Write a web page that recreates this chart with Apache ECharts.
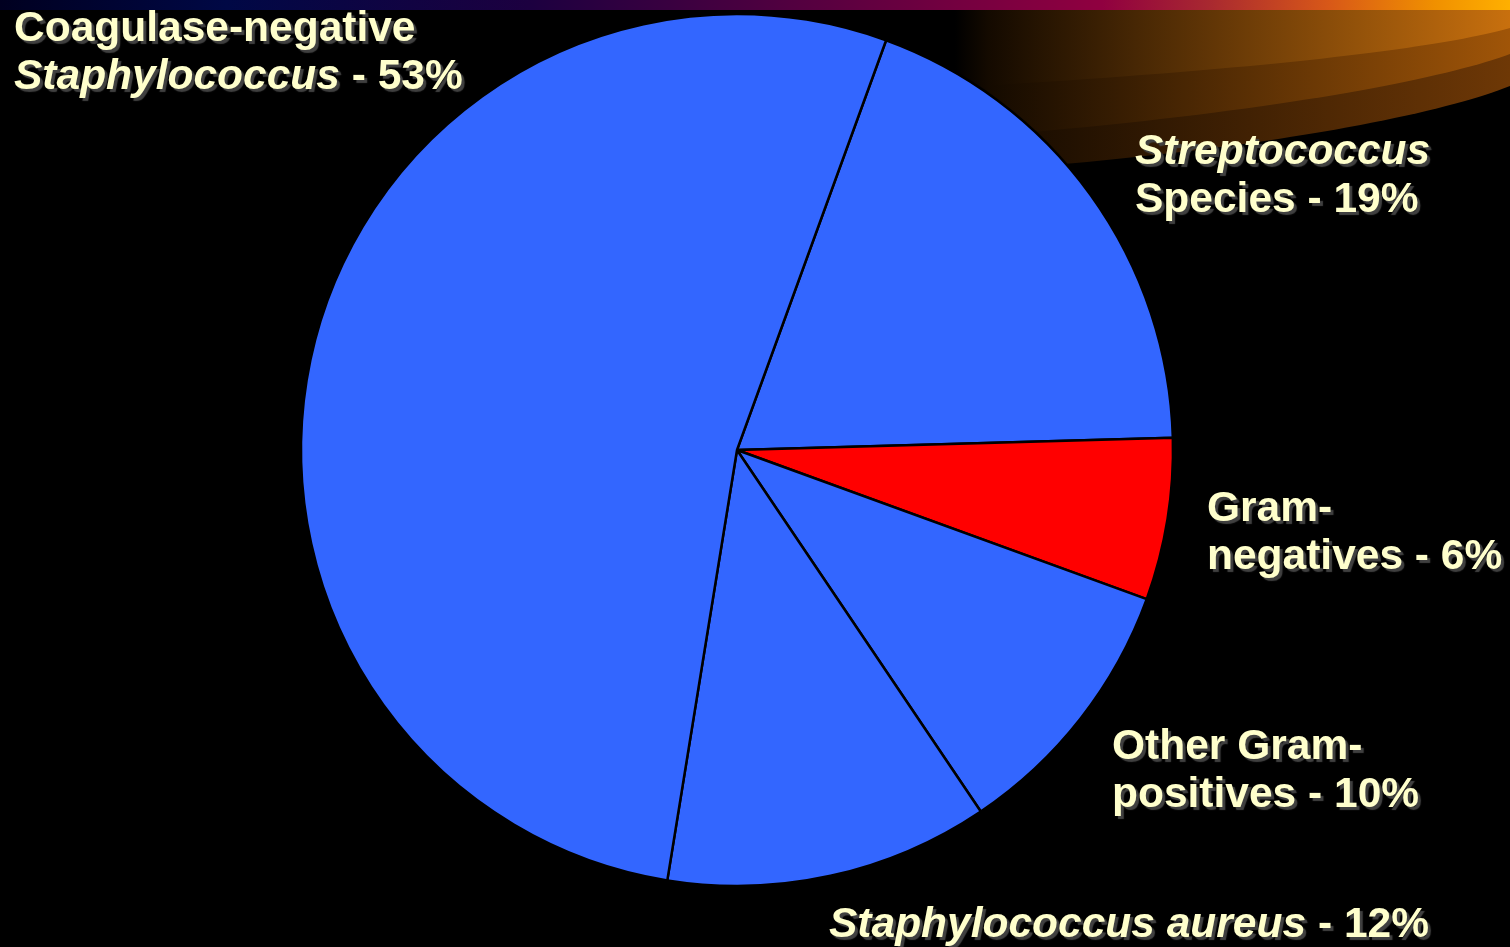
<!DOCTYPE html>
<html>
<head>
<meta charset="utf-8">
<script src="https://cdn.jsdelivr.net/npm/echarts@6/dist/echarts.min.js"></script>
<style>
  html, body { margin: 0; padding: 0; background: #000; }
  #chart { width: 1510px; height: 947px; }
</style>
</head>
<body>
<div id="chart"></div>
<script>
// pie: infection causes
var categories = ['Streptococcus Species', 'Gram-negatives', 'Other Gram-positives', 'Staphylococcus aureus', 'Coagulase-negative Staphylococcus'];
var values = [19, 6, 10, 12, 53];
var sliceColors = ['#3366FF', '#FF0000', '#3366FF', '#3366FF', '#3366FF'];
var labelTexts = [
    '{i|Streptococcus}\n{n|Species - 19%}',
    '{n|Gram-}\n{n|negatives - 6%}',
    '{n|Other Gram-}\n{n|positives - 10%}',
    '{i|Staphylococcus aureus}{n| - 12%}',
    '{n|Coagulase-negative}\n{i|Staphylococcus}{n| - 53%}'
];
// label top-left corners
var labelPos = [[1135, 128], [1207, 485], [1112, 723], [829, 901], [14, 5]];

var myChart = echarts.init(document.getElementById('chart'));

var txt = {
    color: '#FFFFCC',
    fontFamily: '"Liberation Sans", Arial, sans-serif',
    fontSize: 42.5,
    fontWeight: 'bold',
    lineHeight: 48,
    textShadowColor: '#404040',
    textShadowOffsetX: 3,
    textShadowOffsetY: 3,
    textShadowBlur: 1
};

// background swoosh band: top edge at y=10, lower edge a cubic curve
function swoosh(p0, p1, p2, p3, c1) {
    var pts = [[955, 10], [1510, 10]];
    for (var k = 0; k <= 40; k++) {
        var t = k / 40, u = 1 - t;
        pts.push([
            u * u * u * p0[0] + 3 * u * u * t * p1[0] + 3 * u * t * t * p2[0] + t * t * t * p3[0],
            u * u * u * p0[1] + 3 * u * u * t * p1[1] + 3 * u * t * t * p2[1] + t * t * t * p3[1]
        ]);
    }
    pts.push([955, p3[1]]);
    return {
        type: 'polygon',
        z: 0,
        silent: true,
        shape: { points: pts },
        style: {
            fill: new echarts.graphic.LinearGradient(955, 0, 1510, 0, [
                { offset: 0, color: '#000000' },
                { offset: 0.06, color: '#140a00' },
                { offset: 1, color: c1 }
            ], true)
        }
    };
}

myChart.setOption({
    backgroundColor: '#000000',
    animation: false,
    graphic: [
        {
            type: 'rect',
            z: 0,
            silent: true,
            shape: { x: 0, y: 0, width: 1510, height: 10 },
            style: {
                fill: new echarts.graphic.LinearGradient(0, 0, 1, 0, [
                    { offset: 0, color: '#000020' },
                    { offset: 0.15, color: '#000845' },
                    { offset: 0.35, color: '#1c0040' },
                    { offset: 0.62, color: '#700040' },
                    { offset: 0.73, color: '#900040' },
                    { offset: 0.8, color: '#a82830' },
                    { offset: 0.88, color: '#d85818' },
                    { offset: 0.95, color: '#f09000' },
                    { offset: 1, color: '#ffb000' }
                ])
            }
        },
        swoosh([1510, 86], [1440, 114], [1260, 152], [960, 172], '#6e3806'),
        swoosh([1510, 54], [1440, 80], [1260, 115], [960, 138], '#a05508'),
        swoosh([1510, 28], [1440, 48], [1260, 70], [960, 87], '#c8700e')
    ],
    series: [
        {
            type: 'pie',
            center: [737, 450],
            radius: 436,
            startAngle: 70,
            clockwise: true,
            silent: true,
            itemStyle: {
                borderColor: '#000000',
                borderWidth: 2.5
            },
            labelLine: { show: false },
            label: {
                show: true,
                position: 'outside',
                alignTo: 'none',
                overflow: 'none',
                width: 700,
                formatter: function (p) { return labelTexts[p.dataIndex]; },
                rich: {
                    n: txt,
                    i: Object.assign({}, txt, { fontStyle: 'italic' })
                }
            },
            labelLayout: function (p) {
                var pos = labelPos[p.dataIndex];
                return { x: pos[0], y: pos[1], align: 'left', verticalAlign: 'top' };
            },
            data: categories.map(function (c, i) {
                return { name: c, value: values[i], itemStyle: { color: sliceColors[i] } };
            })
        }
    ]
});
</script>
</body>
</html>
